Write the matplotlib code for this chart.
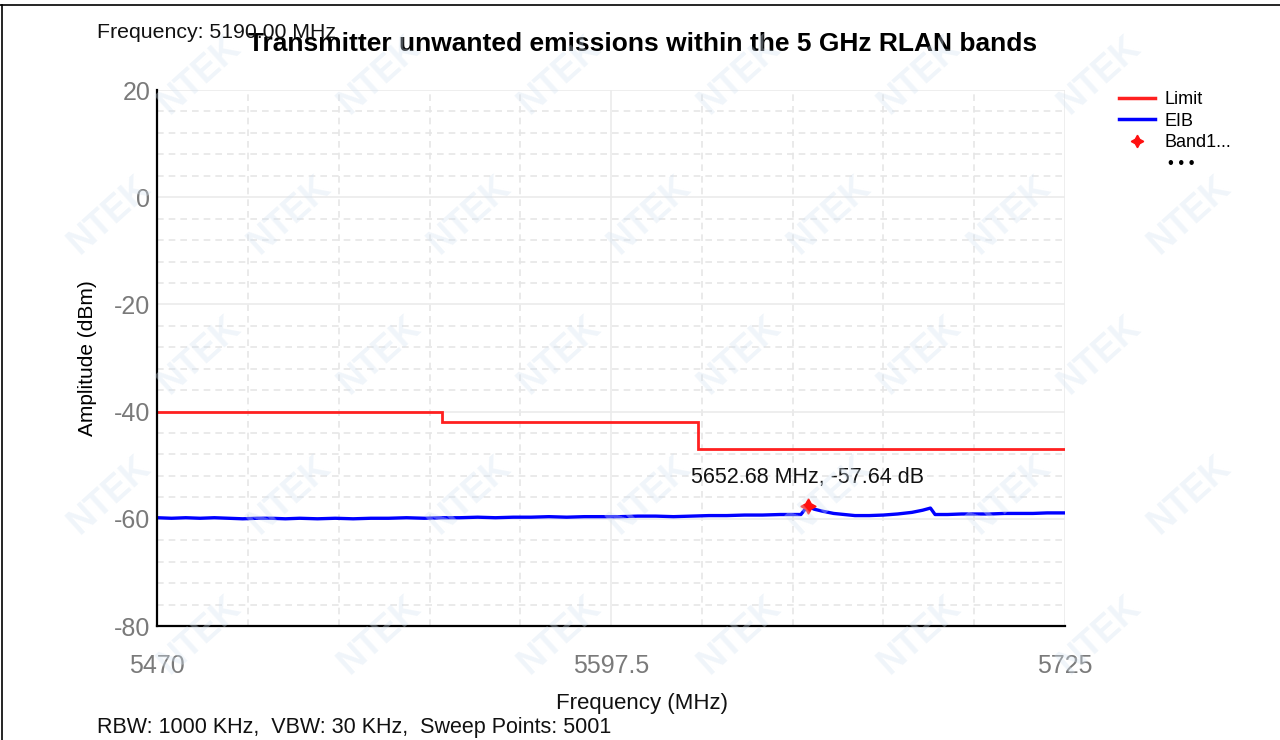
import matplotlib
matplotlib.use("Agg")
import matplotlib.pyplot as plt
from matplotlib.lines import Line2D
import numpy as np

plt.rcParams["font.family"] = ["Liberation Sans", "DejaVu Sans"]
plt.rcParams["axes.unicode_minus"] = False

# limit mask (dBm) over the band edges (MHz)
limit_edges = [5470, 5550, 5622, 5725]
limit_levels = [-40, -42, -47]

# measured EIB trace (MHz, dBm)
eib_freq = [5470, 5474, 5478, 5482, 5486, 5490, 5494, 5498, 5502, 5506, 5510,
            5515, 5520, 5525, 5530, 5535, 5540, 5545, 5550, 5555, 5560, 5565,
            5570, 5575, 5580, 5585, 5590, 5595, 5600, 5605, 5610, 5615, 5620,
            5625, 5630, 5635, 5640, 5645, 5648, 5650.8, 5652.68, 5654.5, 5657,
            5660, 5663, 5666, 5670, 5674, 5678, 5682, 5685, 5687.2, 5688.5,
            5692, 5696, 5700, 5704, 5708, 5712, 5716, 5720, 5725]
eib_amp = [-59.8, -59.9, -59.8, -59.9, -59.8, -59.9, -60.0, -59.9, -59.9, -60.0, -59.9,
           -60.0, -59.9, -60.0, -59.9, -59.9, -59.8, -59.9, -59.8, -59.8, -59.7, -59.8,
           -59.7, -59.7, -59.6, -59.7, -59.6, -59.6, -59.6, -59.5, -59.5, -59.6, -59.5,
           -59.4, -59.4, -59.3, -59.3, -59.2, -59.2, -59.2, -57.64, -58.2, -58.6,
           -59.0, -59.2, -59.4, -59.4, -59.3, -59.1, -58.8, -58.4, -58.0, -59.2,
           -59.2, -59.1, -59.1, -59.1, -59.0, -59.0, -59.0, -58.9, -58.9]

peak_freq = 5652.68
peak_amp = -57.64

x_ticks = [5470, 5597.5, 5725]
y_ticks = [-80, -60, -40, -20, 0, 20]

fig = plt.figure(figsize=(12.8, 7.4), dpi=100)
fig.patch.set_facecolor("white")

# watermark, kept clear of the figure edges
wm_rows = [(75, 20), (215, 110), (355, 20), (495, 110), (635, 20)]
for y0, xoff in wm_rows:
    for x0 in range(xoff, 1280, 180):
        if x0 < 50 or x0 > 1230:
            continue
        fig.text(x0 / 1280, 1 - y0 / 740, "NTEK", fontsize=26, fontweight="bold",
                 color="#d4e3f1", alpha=0.35, rotation=42, ha="center", va="center",
                 zorder=10)

ax = fig.add_axes([157.3 / 1280, 1 - 626 / 740, 907.7 / 1280, 536 / 740])
ax.set_xlim(5470, 5725)
ax.set_ylim(-80, 20)

ax.set_xticks(x_ticks)
ax.set_xticklabels(["5470", "5597.5", "5725"])
ax.set_yticks(y_ticks)
ax.set_xticks(np.arange(5470, 5726, 25.5), minor=True)
ax.set_yticks(np.arange(-80, 21, 4), minor=True)
ax.tick_params(axis="both", which="both", length=0, labelsize=18, labelcolor="#7a7a7a")
ax.tick_params(axis="x", pad=20)
ax.tick_params(axis="y", pad=5)

ax.grid(True, which="major", color="#ebebeb", lw=1.2, ls="-")
ax.grid(True, which="minor", color="#e6e6e6", lw=1.2, ls=(0, (4, 3)))
ax.set_axisbelow(True)

for side in ("top", "right"):
    ax.spines[side].set_visible(False)
for side in ("left", "bottom"):
    ax.spines[side].set_color("black")
    ax.spines[side].set_linewidth(1.6)

ax.stairs(limit_levels, limit_edges, baseline=None, color="#ff2020", lw=2)
ax.plot(eib_freq, eib_amp, color="#0000ff", lw=2.4)
ax.plot([peak_freq], [peak_amp], ls="none", marker=(4, 1, 0), ms=11, color="#ff1010", zorder=5)
ax.annotate(f"{peak_freq:.2f} MHz, {peak_amp:.2f} dB", (peak_freq, peak_amp),
            xytext=(0, 13), textcoords="offset points", ha="center", va="bottom",
            fontsize=15.5, color="#111111")

ax.set_ylabel("Amplitude (dBm)", fontsize=15, labelpad=12)
fig.text(642 / 1280, 1 - 704 / 740, "Frequency (MHz)", ha="center", va="center",
         fontsize=16, color="#111111")

fig.text(643 / 1280, 1 - 44 / 740, "Transmitter unwanted emissions within the 5 GHz RLAN bands",
         ha="center", va="center", fontsize=19, fontweight="bold", color="black")
fig.text(97 / 1280, 1 - 33 / 740, "Frequency: 5190.00 MHz", ha="left", va="center",
         fontsize=15.3, color="#111111")
fig.text(97 / 1280, 1 - 727 / 740, "RBW: 1000 KHz,  VBW: 30 KHz,  Sweep Points: 5001",
         ha="left", va="center", fontsize=15.5, color="#111111")

handles = [Line2D([], [], color="#ff2020", lw=2.5),
           Line2D([], [], color="#0000ff", lw=2.5),
           Line2D([], [], ls="none", marker=(4, 1, 0), ms=9, color="#ff1010")]
fig.legend(handles, ["Limit", "EIB", "Band1..."], loc="upper left",
           bbox_to_anchor=(1112 / 1280, 1 - 84 / 740), frameon=False, fontsize=13,
           handlelength=2.0, handletextpad=0.5, labelspacing=0.25, borderaxespad=0)
fig.text(1181 / 1280, 1 - 163 / 740, "\u2022 \u2022 \u2022", ha="center", va="center",
         fontsize=12, color="black")

# outer frame edges
fig.add_artist(Line2D([0, 1], [1 - 4.5 / 740, 1 - 4.5 / 740], color="black", lw=1.2,
                      transform=fig.transFigure))
fig.add_artist(Line2D([1.5 / 1280, 1.5 / 1280], [0, 1 - 4.5 / 740], color="black", lw=1.2,
                      transform=fig.transFigure))

fig.savefig("out.png", dpi=100)
